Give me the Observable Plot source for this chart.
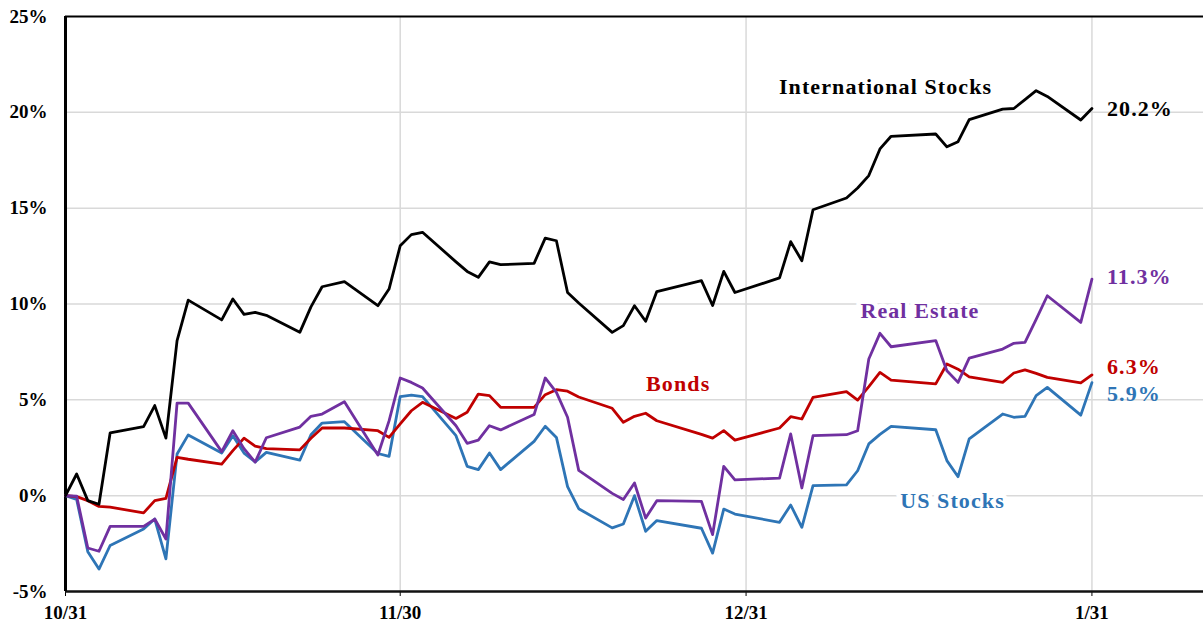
<!DOCTYPE html>
<html><head><meta charset="utf-8">
<script src="https://cdn.jsdelivr.net/npm/d3@7"></script>
<script src="https://cdn.jsdelivr.net/npm/@observablehq/plot@0.6"></script>
<style>
body{margin:0;background:#fff;}
#chart svg{display:block;}
</style>
</head><body><div id="chart"></div>
<script>
// ---- data (cumulative return, %) ----
const dates = ["2022-10-31","2022-11-01","2022-11-02","2022-11-03","2022-11-04","2022-11-07","2022-11-08","2022-11-09","2022-11-10","2022-11-11",
"2022-11-14","2022-11-15","2022-11-16","2022-11-17","2022-11-18","2022-11-21","2022-11-22","2022-11-23","2022-11-25","2022-11-28","2022-11-29","2022-11-30",
"2022-12-01","2022-12-02","2022-12-05","2022-12-06","2022-12-07","2022-12-08","2022-12-09","2022-12-12","2022-12-13","2022-12-14","2022-12-15","2022-12-16",
"2022-12-19","2022-12-20","2022-12-21","2022-12-22","2022-12-23","2022-12-27","2022-12-28","2022-12-29","2022-12-30",
"2023-01-03","2023-01-04","2023-01-05","2023-01-06","2023-01-09","2023-01-10","2023-01-11","2023-01-12","2023-01-13",
"2023-01-17","2023-01-18","2023-01-19","2023-01-20","2023-01-23","2023-01-24","2023-01-25","2023-01-26","2023-01-27","2023-01-30","2023-01-31"];
const intlStocks = [0,1.13,-0.26,-0.45,3.27,3.6,4.7,3.0,8.09,10.2,
9.17,10.26,9.46,9.56,9.41,8.52,9.85,10.9,11.17,9.91,10.78,13.04,
13.62,13.74,12.2,11.7,11.39,12.2,12.05,12.12,13.44,13.3,10.6,10.05,
8.52,8.87,9.91,9.1,10.65,11.22,9.92,11.7,10.6,
11.36,13.25,12.26,14.92,15.53,16.05,16.7,18.09,18.75,
18.87,18.2,18.47,19.62,20.17,20.2,20.66,21.13,20.83,19.6,20.2];
const usStocks = [0,-0.2,-2.92,-3.83,-2.6,-1.74,-1.22,-3.3,2.17,3.17,
2.23,3.13,2.22,1.76,2.26,1.85,3.18,3.79,3.86,2.2,2.05,5.17,
5.25,5.17,3.13,1.53,1.36,2.23,1.36,2.83,3.62,3.04,0.47,-0.68,
-1.68,-1.48,0.0,-1.86,-1.3,-1.7,-3.0,-0.7,-0.96,
-1.39,-0.49,-1.65,0.52,0.56,1.3,2.7,3.2,3.62,
3.44,1.83,0.99,2.96,4.26,4.09,4.14,5.22,5.65,4.2,5.9];
const bonds = [0,-0.05,-0.26,-0.56,-0.6,-0.9,-0.26,-0.14,2.0,1.9,
1.65,2.35,3.0,2.58,2.45,2.39,3.0,3.53,3.53,3.39,3.04,3.75,
4.43,4.87,4.03,4.35,5.3,5.22,4.61,4.61,5.27,5.53,5.45,5.15,
4.56,3.83,4.14,4.3,3.91,3.2,3.0,3.39,2.9,
3.53,4.12,4.0,5.13,5.43,4.99,5.69,6.43,6.03,
5.83,6.87,6.6,6.2,5.91,6.4,6.56,6.38,6.17,5.88,6.3];
const realEstate = [0,-0.03,-2.73,-2.9,-1.6,-1.6,-1.22,-2.26,4.83,4.83,
2.3,3.39,2.45,1.75,3.02,3.58,4.14,4.26,4.9,2.12,3.9,6.14,
5.91,5.62,3.65,2.73,2.9,3.65,3.43,4.23,6.14,5.39,4.09,1.32,
0.12,-0.2,0.66,-1.17,-0.26,-0.3,-2.03,1.53,0.82,
0.92,3.22,0.4,3.13,3.18,3.39,7.13,8.47,7.77,
8.09,6.52,5.91,7.18,7.65,7.95,8.0,9.2,10.43,9.04,11.3];

const seriesNames = ["US Stocks","Bonds","Real Estate","International Stocks"];
const seriesColors = ["#2E75B6","#C00000","#7030A0","#000000"];
const xTickDates = ["2022-10-31","2022-11-30","2022-12-31","2023-01-31"];
const yTicks = [-5,0,5,10,15,20,25];

// ---- build ----
const parse = d3.isoParse;
const seriesValues = [usStocks, bonds, realEstate, intlStocks];
const data = seriesNames.flatMap((name, s) =>
  dates.map((d, i) => ({date: parse(d), value: seriesValues[s][i], series: name})));

const xDomain = [parse("2022-10-31"), parse("2023-02-10")];
const colorOf = Object.fromEntries(seriesNames.map((n, i) => [n, seriesColors[i]]));

// series name annotations anchored in data space
const nameLabels = [
  {series: "International Stocks", date: parse("2023-01-12T12:00Z"), value: 21.3},
  {series: "Real Estate",          date: parse("2023-01-15T14:00Z"), value: 9.65},
  {series: "Bonds",                date: parse("2022-12-24T22:00Z"), value: 5.84},
  {series: "US Stocks",            date: parse("2023-01-18T12:00Z"), value: -0.26}
];
const lastDate = parse(dates[dates.length - 1]);
const endOffsets = {"International Stocks": 0, "Real Estate": -2, "Bonds": -8, "US Stocks": 11};
const endMarks = seriesNames.map((name, s) => {
  const v = seriesValues[s][seriesValues[s].length - 1];
  return Plot.text([{date: lastDate, value: v, t: v.toFixed(1) + "%"}], {
    x: "date", y: "value", text: "t", fill: seriesColors[s],
    textAnchor: "start", dx: 15, dy: endOffsets[name], fontSize: 22
  });
});

const chart = Plot.plot({
  width: 1203, height: 626,
  marginLeft: 65, marginRight: 0, marginTop: 16, marginBottom: 35,
  x: {type: "utc", domain: xDomain, ticks: xTickDates.map(parse),
      tickFormat: d3.utcFormat("%-m/%-d"), tickSize: 5, tickPadding: 9, label: null},
  y: {domain: [-5, 25], ticks: yTicks, tickFormat: d => d + "%", tickSize: 0, tickPadding: 18, label: null},
  style: {fontFamily: "'Liberation Serif', serif", fontWeight: "bold", fontSize: "19px", color: "#000", background: "#fff"},
  marks: [
    Plot.ruleY([0, 5, 10, 15, 20], {stroke: "#d9d9d9", strokeWidth: 1.5}),
    Plot.ruleX(xTickDates.slice(1).map(parse), {stroke: "#d9d9d9", strokeWidth: 1.5}),
    Plot.ruleY([25], {stroke: "#000", strokeWidth: 2}),
    Plot.ruleY([-5], {stroke: "#111", strokeWidth: 2.5}),
    Plot.ruleX([xDomain[0]], {stroke: "#000", strokeWidth: 3}),
    Plot.lineY(data, {x: "date", y: "value", z: "series", stroke: d => colorOf[d.series], strokeWidth: 2.8}),
    Plot.text(nameLabels, {x: "date", y: "value", text: "series", fill: d => colorOf[d.series],
      fontSize: 22, stroke: "white", strokeWidth: 9}),
    ...endMarks
  ]
});
d3.select(chart).selectAll('g[aria-label="text"] text').style("letter-spacing", "1.1px");
document.getElementById("chart").appendChild(chart);
</script>
</body></html>
